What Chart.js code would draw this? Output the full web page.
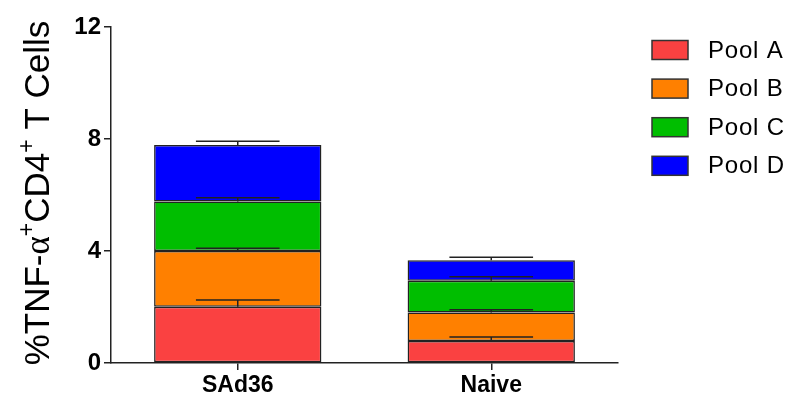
<!DOCTYPE html>
<html>
<head>
<meta charset="utf-8">
<script src="https://cdn.jsdelivr.net/npm/chart.js@4.4.1/dist/chart.umd.min.js"></script>
<style>
  html, body { margin: 0; padding: 0; background: #fff; }
  #wrap { width: 798px; height: 405px; }
</style>
</head>
<body>
<div id="wrap"><canvas id="myChart" width="798" height="405"></canvas></div>
<script>
const categories = ['SAd36', 'Naive'];
const poolLabels = ['Pool A', 'Pool B', 'Pool C', 'Pool D'];
const poolColors = ['#FA4141', '#FF8000', '#00BE00', '#0000FF'];

// mean values
const poolA = [2.01, 0.79];
const poolB = [1.99, 1.01];
const poolC = [1.77, 1.14];
const poolD = [2.02, 0.73];

// upward error (SEM)
const errA = [0.24, 0.14];
const errB = [0.10, 0.10];
const errC = [0.13, 0.14];
const errD = [0.13, 0.11];

const yTicks = [0, 4, 8, 12];

const poolValues = [poolA, poolB, poolC, poolD];
const poolErrors = [errA, errB, errC, errD];

// error bars on top of each stacked segment
const errorBars = {
    id: 'errorBars',
    afterDatasetsDraw(chart) {
        const ctx = chart.ctx;
        const yScale = chart.scales.y;
        const cum = categories.map(() => 0);
        ctx.save();
        ctx.strokeStyle = '#222';
        ctx.lineWidth = 1.5;
        chart.data.datasets.forEach((ds, i) => {
            const meta = chart.getDatasetMeta(i);
            meta.data.forEach((bar, j) => {
                cum[j] += ds.data[j];
                const yTop = yScale.getPixelForValue(cum[j]);
                const yErr = yScale.getPixelForValue(cum[j] + poolErrors[i][j]);
                const half = bar.width / 4;
                ctx.beginPath();
                ctx.moveTo(bar.x, yTop);
                ctx.lineTo(bar.x, yErr);
                ctx.moveTo(bar.x - half, yErr);
                ctx.lineTo(bar.x + half, yErr);
                ctx.stroke();
            });
        });
        ctx.restore();
    }
};

// y axis title with superscripts, and the legend on the right
const decorations = {
    id: 'decorations',
    afterDraw(chart) {
        const ctx = chart.ctx;
        ctx.save();
        // title
        const parts = [
            { t: '%TNF-', f: '35px "Liberation Sans", Arial', up: 0 },
            { t: 'α', f: '35px "Liberation Serif", serif', up: 0 },
            { t: '+', f: '23px "Liberation Sans", Arial', up: 15 },
            { t: 'CD4', f: '35px "Liberation Sans", Arial', up: 0 },
            { t: '+', f: '23px "Liberation Sans", Arial', up: 15 },
            { t: ' T Cells', f: '35px "Liberation Sans", Arial', up: 0 }
        ];
        let total = 0;
        parts.forEach(p => { ctx.font = p.f; p.w = ctx.measureText(p.t).width; total += p.w; });
        ctx.translate(49, 193);
        ctx.rotate(-Math.PI / 2);
        ctx.fillStyle = '#000';
        ctx.textBaseline = 'alphabetic';
        let x = -total / 2;
        parts.forEach(p => {
            ctx.font = p.f;
            ctx.fillText(p.t, x, -p.up);
            x += p.w;
        });
        ctx.restore();

        // legend
        ctx.save();
        ctx.font = '24px "Liberation Sans", Arial';
        ctx.textBaseline = 'middle';
        ctx.letterSpacing = '0.8px';
        poolLabels.forEach((lab, i) => {
            const cy = 50 + i * 38.6;
            ctx.fillStyle = poolColors[i];
            ctx.fillRect(652, cy - 9.5, 36, 19);
            ctx.strokeStyle = '#333';
            ctx.lineWidth = 1.5;
            ctx.strokeRect(652, cy - 9.5, 36, 19);
            ctx.fillStyle = '#000';
            ctx.fillText(lab, 708, cy + 1);
        });
        ctx.restore();
    }
};

const ctx = document.getElementById('myChart').getContext('2d');
new Chart(ctx, {
    type: 'bar',
    data: {
        labels: categories,
        datasets: poolLabels.map((lab, i) => ({
            label: lab,
            data: poolValues[i],
            backgroundColor: poolColors[i],
            borderColor: '#222',
            borderWidth: 1.5,
            borderSkipped: false,
            barPercentage: 0.66,
            categoryPercentage: 1
        }))
    },
    options: {
        responsive: false,
        animation: false,
        layout: { padding: { top: 27, right: 180, left: 0, bottom: 0 } },
        plugins: {
            legend: { display: false },
            tooltip: { enabled: false }
        },
        scales: {
            x: {
                stacked: true,
                afterFit(scale) { scale.height = 42; },
                grid: { display: true, drawOnChartArea: false, offset: false, tickLength: 7, color: '#222', lineWidth: 1.5 },
                border: { color: '#222', width: 1.5 },
                ticks: {
                    color: '#000',
                    padding: 2,
                    font: { family: '"Liberation Sans", Arial', size: 23, weight: 'bold' }
                }
            },
            y: {
                stacked: true,
                min: 0,
                max: 12,
                afterFit(scale) { scale.width = 111; },
                afterBuildTicks(scale) { scale.ticks = yTicks.map(v => ({ value: v })); },
                grid: { display: true, drawOnChartArea: false, tickLength: 7, color: '#222', lineWidth: 1.5 },
                border: { color: '#222', width: 1.5 },
                ticks: {
                    color: '#000',
                    padding: 3,
                    font: { family: '"Liberation Sans", Arial', size: 24, weight: 'bold' }
                }
            }
        }
    },
    plugins: [errorBars, decorations]
});
</script>
</body>
</html>
